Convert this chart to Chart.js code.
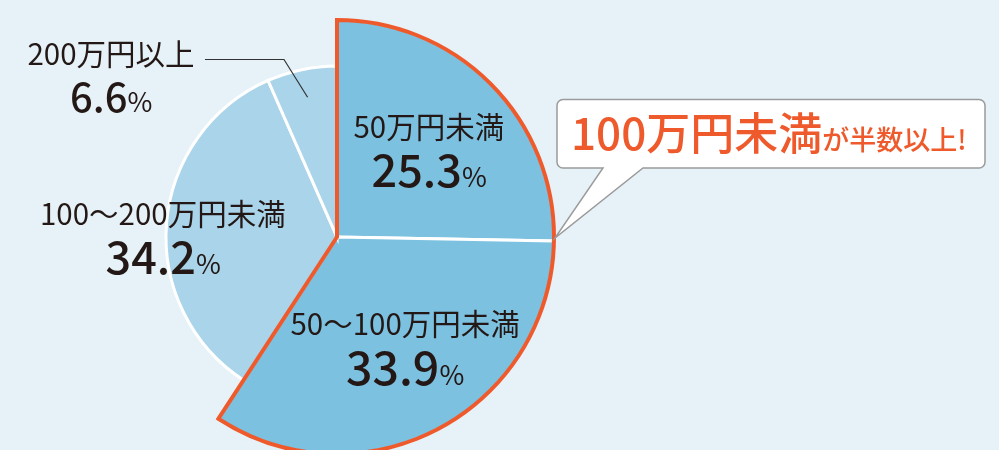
<!DOCTYPE html>
<html><head><meta charset="utf-8">
<script src="https://cdn.jsdelivr.net/npm/chart.js@4.4.1/dist/chart.umd.min.js"></script>
<style>
html,body{margin:0;padding:0;background:#E6F2F7;}
#wrap{position:relative;width:999px;height:450px;overflow:hidden;background:#E6F2F7;}
canvas{position:absolute;left:0;top:0;}
.lbl{position:absolute;white-space:nowrap;font-family:"Noto Sans CJK JP","Noto Sans CJK SC",sans-serif;color:#231815;line-height:1.2;}
</style></head><body>
<div id="wrap"><canvas id="c" width="999" height="450"></canvas></div>
<script>
// ---- data ----
const categories = ['50万円未満', '50〜100万円未満', '100〜200万円未満', '200万円以上'];
const shares = [25.3, 33.9, 34.2, 6.6];
const calloutMain = '100万円未満';
const calloutSub = 'が半数以上!';

// ---- style ----
const highlighted = [true, true, false, false];
const bigR = 217, smallR = 171;
const fillHi = '#7CC1E0', fillLo = '#AAD4EA', orange = '#EE5A2B';

const radiusPlugin = {
  id: 'radii',
  beforeDatasetsDraw(chart) {
    const meta = chart.getDatasetMeta(0);
    meta.data.forEach((arc, i) => { arc.outerRadius = highlighted[i] ? bigR : smallR; });
  }
};

const decoPlugin = {
  id: 'deco',
  afterDatasetsDraw(chart) {
    const ctx = chart.ctx;
    const meta = chart.getDatasetMeta(0);
    const a0 = meta.data[0], a1 = meta.data[1], a3 = meta.data[3];
    // orange outline around the highlighted (under 100万) slices
    ctx.save();
    ctx.beginPath();
    ctx.moveTo(a0.x, a0.y);
    ctx.arc(a0.x, a0.y, a0.outerRadius, a0.startAngle, a1.endAngle);
    ctx.closePath();
    ctx.lineWidth = 4; ctx.lineJoin = 'miter'; ctx.strokeStyle = orange;
    ctx.stroke();
    ctx.restore();

    // leader line for the small slice
    const mid = (a3.startAngle + a3.endAngle) / 2;
    const ex = a3.x + Math.cos(mid) * smallR * 0.835;
    const ey = a3.y + Math.sin(mid) * smallR * 0.835;
    ctx.save();
    ctx.beginPath();
    ctx.moveTo(205, 59.5); ctx.lineTo(284, 59.5); ctx.lineTo(ex, ey);
    ctx.lineWidth = 1.2; ctx.strokeStyle = '#333'; ctx.stroke();
    ctx.restore();

    // callout bubble
    const tx = a0.x + Math.cos(a0.endAngle) * (bigR + 1);
    const ty = a0.y + Math.sin(a0.endAngle) * (bigR + 1) - 3;
    const L = 557, T = 99.5, R = 985, B = 168, r = 6, p1 = 603, p2 = 643;
    ctx.save();
    ctx.beginPath();
    ctx.moveTo(L + r, T);
    ctx.lineTo(R - r, T); ctx.arcTo(R, T, R, T + r, r);
    ctx.lineTo(R, B - r); ctx.arcTo(R, B, R - r, B, r);
    ctx.lineTo(p2, B); ctx.lineTo(tx, ty); ctx.lineTo(p1, B);
    ctx.lineTo(L + r, B); ctx.arcTo(L, B, L, B - r, r);
    ctx.lineTo(L, T + r); ctx.arcTo(L, T, L + r, T, r);
    ctx.closePath();
    ctx.fillStyle = '#fff'; ctx.fill();
    ctx.lineWidth = 1.5; ctx.strokeStyle = '#9B9B9B'; ctx.lineJoin = 'miter'; ctx.stroke();
    ctx.restore();
  }
};

const chart = new Chart(document.getElementById('c'), {
  type: 'pie',
  data: {
    labels: categories,
    datasets: [{
      data: shares,
      backgroundColor: highlighted.map(h => h ? fillHi : fillLo),
      borderColor: '#ffffff',
      borderWidth: 3,
      borderJoinStyle: 'miter'
    }]
  },
  options: {
    responsive: false,
    animation: false,
    radius: bigR,
    layout: { padding: { left: 0, right: 325, top: 24, bottom: 0 } },
    plugins: { legend: { display: false }, tooltip: { enabled: false } }
  },
  plugins: [radiusPlugin, decoPlugin]
});

// ---- text labels (DOM text) ----
const wrap = document.getElementById('wrap');
function place(html, cx, by) {
  const d = document.createElement('div');
  d.className = 'lbl';
  d.innerHTML = html + '<span style="display:inline-block;width:0;height:0;"></span>';
  wrap.appendChild(d);
  const m = d.lastChild;
  const off = m.offsetTop + m.offsetHeight;
  d.style.left = (cx - d.offsetWidth / 2) + 'px';
  d.style.top = (by - off) + 'px';
}
const labelPos = [
  { cx: 429, nameY: 138, valY: 187, vs: 45, ps: 27 },
  { cx: 405, nameY: 335, valY: 385, vs: 46.5, ps: 27 },
  { cx: 163, nameY: 225, valY: 274, vs: 45, ps: 27 },
  { cx: 111, nameY: 65, valY: 112, vs: 40, ps: 27 }
];
categories.forEach((c, i) => {
  const p = labelPos[i];
  place('<span style="font-size:29.5px;font-weight:400">' + c + '</span>', p.cx, p.nameY);
  place('<span style="font-size:' + p.vs + 'px;font-weight:500">' + shares[i].toFixed(1) +
        '</span><span style="font-size:' + p.ps + 'px;font-weight:400">%</span>', p.cx, p.valY);
});
place('<span style="font-size:44px;font-weight:500;color:' + orange + '">' + calloutMain +
      '</span><span style="font-size:27px;font-weight:500;color:' + orange + '">' + calloutSub + '</span>', 769, 150);
</script>
</body></html>
